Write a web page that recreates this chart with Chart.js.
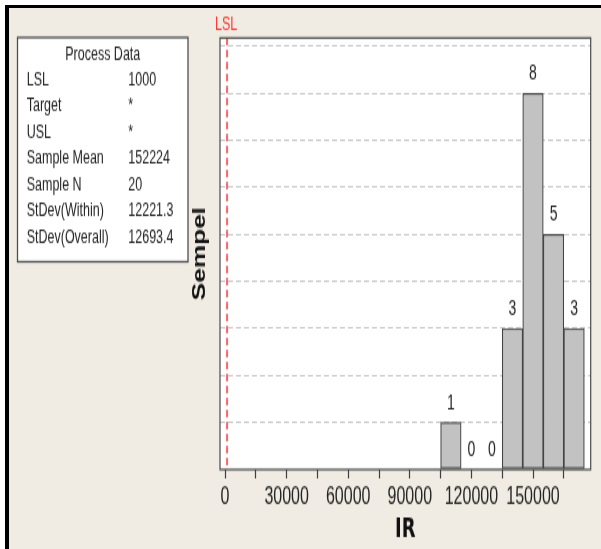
<!DOCTYPE html>
<html>
<head>
<meta charset="utf-8">
<script src="https://cdn.jsdelivr.net/npm/chart.js@4/dist/chart.umd.min.js"></script>
<style>
  html, body { margin: 0; padding: 0; background: #ffffff; overflow: hidden; }
  #frame {
    position: absolute; left: 5px; top: 5px; width: 596px; height: 544px;
    box-sizing: border-box; background: #f0ece3;
    border-top: 3px solid #000; border-left: 4px solid #000;
  }
  /* Minitab-style capability graph, drawn at 2/3 height then stretched */
  #stage {
    position: absolute; left: 0; top: 0; width: 601px; height: 366px;
    transform: scaleY(1.5); transform-origin: 0 0;
  }
</style>
</head>
<body>
<div id="frame"></div>
<div id="stage"><canvas id="cap" width="601" height="366"></canvas></div>
<script>
// Histogram bins of IR (bin centres, width 10000) and their counts
const binCenters = [110000, 120000, 130000, 140000, 150000, 160000, 170000];
const counts = [1, 0, 0, 3, 8, 5, 3];

// Lower specification limit
const lslValue = 1000;
const lslLabel = 'LSL';

// Process data summary table
const processTitle = 'Process Data';
const processLabels = ['LSL', 'Target', 'USL', 'Sample Mean', 'Sample N', 'StDev(Within)', 'StDev(Overall)'];
const processValues = ['1000', '*', '*', '152224', '20', '12221.3', '12693.4'];

// Axis ticks: labelled major ticks and unlabelled minor ticks
const xMajorTicks = [0, 30000, 60000, 90000, 120000, 150000];
const xMinorTicks = [15000, 45000, 75000, 105000, 135000, 165000];
const xMin = -2450, xMax = 178100;
const yGridValues = [1, 2, 3, 4, 5, 6, 7, 8, 9];
const yMax = 9.18;
const xTitle = 'IR';
const yTitle = 'Sempel';

const textColor = '#242424';

const areaAndFrame = {
  id: 'areaAndFrame',
  beforeDraw(chart) {
    const {ctx, chartArea: a} = chart;
    ctx.save();
    ctx.fillStyle = '#ffffff';
    ctx.fillRect(a.left, a.top, a.right - a.left, a.bottom - a.top);
    ctx.restore();
  },
  afterDatasetsDraw(chart) {
    const {ctx, chartArea: a, scales} = chart;
    ctx.save();
    // LSL reference line
    const lx = scales.x.getPixelForValue(lslValue);
    ctx.strokeStyle = 'rgba(255,70,70,0.85)';
    ctx.lineWidth = 2;
    ctx.setLineDash([5, 3]);
    ctx.beginPath();
    ctx.moveTo(lx, a.top);
    ctx.lineTo(lx, a.bottom);
    ctx.stroke();
    ctx.setLineDash([]);
    ctx.fillStyle = '#ff3434';
    ctx.font = '12.5px "Liberation Sans", Arial, sans-serif';
    ctx.textAlign = 'center';
    ctx.textBaseline = 'middle';
    ctx.fillText(lslLabel, lx - 1, 16.3);

    // plot frame
    ctx.strokeStyle = '#4a4a4a';
    ctx.lineWidth = 1.2;
    ctx.strokeRect(a.left, a.top, a.right - a.left, a.bottom - a.top);

    // bar counts
    const meta = chart.getDatasetMeta(0);
    ctx.fillStyle = textColor;
    ctx.font = '14px "Liberation Sans", Arial, sans-serif';
    meta.data.forEach((bar, i) => {
      ctx.fillText(String(counts[i]), bar.x, bar.y - 12.7);
    });
    ctx.restore();
  },
  afterDraw(chart) {
    const {ctx} = chart;
    ctx.save();
    const bx = 17.5, by = 25, bw = 170.5, bh = 149.5;
    ctx.fillStyle = '#ffffff';
    ctx.fillRect(bx, by, bw, bh);
    ctx.strokeStyle = '#4f4f4f';
    ctx.lineWidth = 1.3;
    ctx.strokeRect(bx, by, bw, bh);
    ctx.fillStyle = textColor;
    ctx.font = '12.5px "Liberation Sans", Arial, sans-serif';
    ctx.textBaseline = 'middle';
    ctx.textAlign = 'center';
    ctx.fillText(processTitle, bx + bw / 2, 36.7);
    ctx.textAlign = 'left';
    processLabels.forEach((lab, i) => {
      const y = 53.3 + i * 17.5;
      ctx.fillText(lab, 26.7, y);
      ctx.fillText(processValues[i], 128.3, y);
    });
    ctx.restore();
  }
};

new Chart(document.getElementById('cap'), {
  type: 'bar',
  data: {
    datasets: [{
      data: binCenters.map((x, i) => ({x: x, y: counts[i]})),
      backgroundColor: '#c2c2c2',
      borderColor: '#454545',
      borderWidth: ctx => (counts[ctx.dataIndex] ? 1.2 : 0),
      borderSkipped: false,
      barPercentage: 1,
      categoryPercentage: 1
    }]
  },
  options: {
    responsive: false,
    animation: false,
    devicePixelRatio: 1,
    layout: { padding: { left: 186, right: 10.3, top: 25.3, bottom: 3.8 } },
    plugins: { legend: { display: false }, tooltip: { enabled: false } },
    scales: {
      x: {
        type: 'linear',
        min: xMin,
        max: xMax,
        offset: false,
        afterBuildTicks: scale => {
          scale.ticks = xMajorTicks.concat(xMinorTicks)
            .sort((p, q) => p - q)
            .map(v => ({value: v}));
        },
        border: { display: false },
        grid: {
          offset: false,
          drawOnChartArea: false,
          drawTicks: true,
          tickLength: 6,
          tickColor: '#404040',
          tickWidth: 1.2
        },
        ticks: {
          autoSkip: false,
          maxRotation: 0,
          minRotation: 0,
          padding: 3,
          color: textColor,
          font: { family: '"Liberation Sans", Arial, sans-serif', size: 16 },
          callback: v => (xMajorTicks.includes(v) ? String(v) : '')
        },
        title: {
          display: true,
          text: xTitle,
          color: '#111111',
          padding: { top: 0, bottom: 0 },
          font: { family: '"DejaVu Sans", sans-serif', size: 18, weight: 'bold', lineHeight: 1 }
        }
      },
      y: {
        min: 0,
        max: yMax,
        afterBuildTicks: scale => {
          scale.ticks = [0].concat(yGridValues).map(v => ({value: v}));
        },
        border: { display: false, dash: [5, 3] },
        grid: {
          drawTicks: false,
          color: ctx => (ctx.tick && ctx.tick.value > 0 ? '#c8c8c8' : 'rgba(0,0,0,0)'),
          lineWidth: 1.1
        },
        ticks: { display: false },
        title: {
          display: true,
          text: yTitle,
          color: '#111111',
          padding: { top: 4, bottom: 9 },
          font: { family: '"Liberation Sans", Arial, sans-serif', size: 17.5, weight: 'bold', lineHeight: 1.2 }
        }
      }
    }
  },
  plugins: [areaAndFrame]
});
</script>
</body>
</html>
